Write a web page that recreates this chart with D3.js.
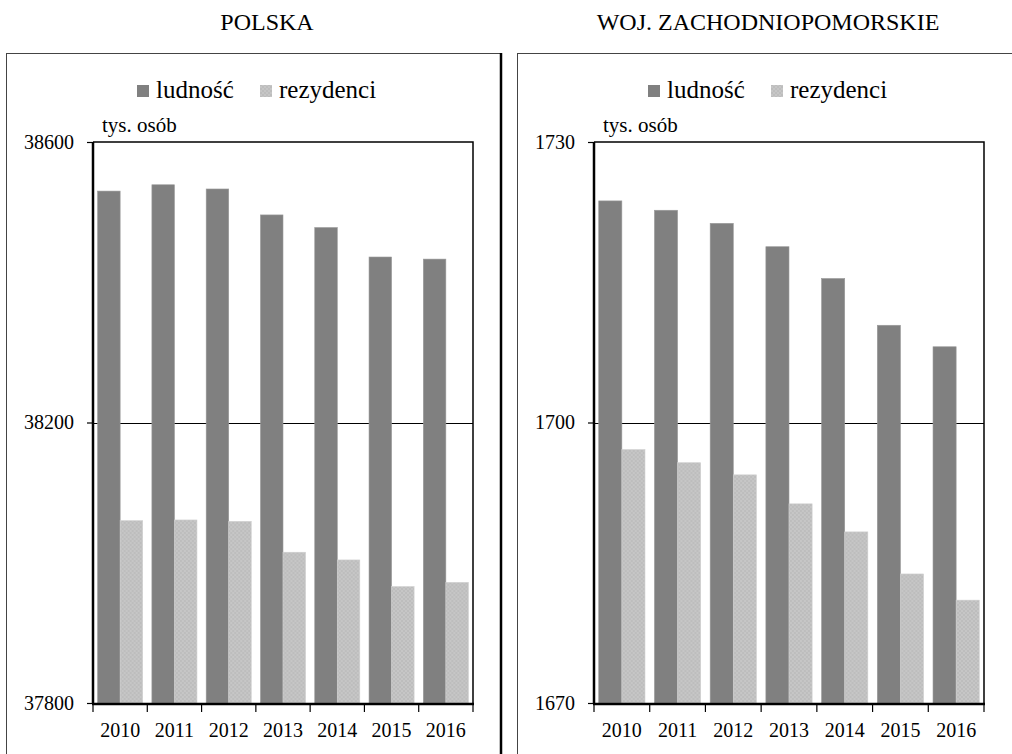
<!DOCTYPE html>
<html>
<head>
<meta charset="utf-8">
<script src="https://cdn.jsdelivr.net/npm/d3@7"></script>
<style>
  body { margin: 0; background: #fff; }
  svg text { font-family: 'Liberation Serif', 'DejaVu Serif', serif; }
</style>
</head>
<body>
<script>
const years = ['2010', '2011', '2012', '2013', '2014', '2015', '2016']
const seriesNames = ['ludność', 'rezydenci']

const polskaLudnosc = [38530, 38539, 38533, 38496, 38478, 38436, 38433]
const polskaRezydenci = [38060, 38061, 38059, 38015, 38004, 37966, 37972]
const polskaTicks = [37800, 38200, 38600]

const zpLudnosc = [1723.7, 1722.7, 1721.3, 1718.8, 1715.4, 1710.4, 1708.1]
const zpRezydenci = [1697.1, 1695.7, 1694.4, 1691.3, 1688.3, 1683.8, 1681.0]
const zpTicks = [1670, 1700, 1730]

const width = 1012
const height = 754
const serif = "'Liberation Serif', 'DejaVu Serif', serif"

const svg = d3.select('body').append('svg')
  .attr('width', width)
  .attr('height', height)
  .attr('font-family', serif)

// checker fill for the "rezydenci" bars
const defs = svg.append('defs')
const pat = defs.append('pattern')
  .attr('id', 'checker')
  .attr('patternUnits', 'userSpaceOnUse')
  .attr('width', 4)
  .attr('height', 4)
pat.append('rect').attr('width', 4).attr('height', 4).attr('fill', '#c6c6c6')
pat.append('rect').attr('width', 2).attr('height', 2).attr('fill', '#bdbdbd')
pat.append('rect').attr('x', 2).attr('y', 2).attr('width', 2).attr('height', 2).attr('fill', '#bdbdbd')

const fills = ['#808080', 'url(#checker)']

function panel({ title, titleX, boxX, boxW, left, right, ludnosc, rezydenci, ticks, legendX }) {
  const top = 142
  const bottom = 703

  const g = svg.append('g')

  g.append('text')
    .attr('x', titleX)
    .attr('y', 30)
    .attr('text-anchor', 'middle')
    .attr('font-family', serif)
    .attr('font-size', 24)
    .attr('fill', '#000')
    .text(title)

  // frame around the panel
  g.append('rect')
    .attr('x', boxX + 0.5)
    .attr('y', 53.5)
    .attr('width', boxW)
    .attr('height', 760)
    .attr('fill', 'none')
    .attr('stroke', '#444')
    .attr('stroke-width', 1)

  const x0 = d3.scaleBand()
    .domain(years)
    .range([left, right])
    .paddingInner(0.17)
    .paddingOuter(0.085)

  const x1 = d3.scaleBand()
    .domain(seriesNames)
    .range([0, x0.bandwidth()])

  const y = d3.scaleLinear()
    .domain([ticks[0], ticks[ticks.length - 1]])
    .range([bottom, top])

  // plot box (top / right)
  g.append('path')
    .attr('d', `M${left},${top}H${right}V${bottom}`)
    .attr('fill', 'none')
    .attr('stroke', '#000')
    .attr('stroke-width', 1.5)

  // middle gridline
  g.append('g')
    .selectAll('line')
    .data(ticks.slice(1, -1))
    .join('line')
    .attr('x1', left)
    .attr('x2', right)
    .attr('y1', d => Math.round(y(d)) + 0.5)
    .attr('y2', d => Math.round(y(d)) + 0.5)
    .attr('stroke', '#000')
    .attr('stroke-width', 1)

  const rows = years.map((yr, i) => ({ year: yr, values: [ludnosc[i], rezydenci[i]] }))

  g.append('g')
    .selectAll('g')
    .data(rows)
    .join('g')
    .attr('transform', d => `translate(${x0(d.year)},0)`)
    .selectAll('rect')
    .data(d => d.values.map((v, k) => ({ key: seriesNames[k], value: v, k })))
    .join('rect')
    .attr('x', d => x1(d.key))
    .attr('width', x1.bandwidth())
    .attr('y', d => y(d.value))
    .attr('height', d => bottom - y(d.value))
    .attr('fill', d => fills[d.k])
    .attr('stroke', d => (d.k === 0 ? '#999' : '#cfcfcf'))
    .attr('stroke-width', 0.6)

  // y axis
  const yAxis = d3.axisLeft(y).tickValues(ticks).tickSize(6).tickPadding(13).tickFormat(d3.format('d'))
  g.append('g')
    .attr('transform', `translate(${left},0)`)
    .call(yAxis)
    .attr('font-family', serif)
    .attr('font-size', 20)
    .call(a => a.select('.domain').attr('stroke-width', 2.5).attr('d', `M0,${top}V${bottom + 1}`))
    .call(a => a.selectAll('.tick line').attr('stroke-width', 1.2))
    .call(a => a.selectAll('text')
      .attr('font-family', serif)
      .attr('font-size', 20)
      .attr('fill', '#000'))

  // x axis: ticks at category boundaries, labels centered
  const bounds = years.map(yr => x0(yr) - x0.step() * x0.paddingOuter()).concat([right])
  const xg = g.append('g')
  xg.append('line')
    .attr('x1', left - 1)
    .attr('x2', right + 1)
    .attr('y1', bottom + 1)
    .attr('y2', bottom + 1)
    .attr('stroke', '#000')
    .attr('stroke-width', 2.5)
  xg.selectAll('.xt')
    .data(bounds)
    .join('line')
    .attr('class', 'xt')
    .attr('x1', d => d)
    .attr('x2', d => d)
    .attr('y1', bottom)
    .attr('y2', bottom + 9)
    .attr('stroke', '#000')
    .attr('stroke-width', 1.2)
  xg.selectAll('text')
    .data(years)
    .join('text')
    .attr('x', d => x0(d) + x0.bandwidth() / 2)
    .attr('y', 737)
    .attr('text-anchor', 'middle')
    .attr('font-family', serif)
    .attr('font-size', 20)
    .attr('fill', '#000')
    .text(d => d)

  // unit label
  g.append('text')
    .attr('x', left + 9)
    .attr('y', 132)
    .attr('font-family', serif)
    .attr('font-size', 21)
    .attr('fill', '#000')
    .text('tys. osób')

  // legend
  const lg = g.append('g').attr('transform', `translate(${legendX},0)`)
  const items = [
    { name: seriesNames[0], fill: fills[0], dx: 0 },
    { name: seriesNames[1], fill: fills[1], dx: 123 },
  ]
  const it = lg.selectAll('g').data(items).join('g').attr('transform', d => `translate(${d.dx},0)`)
  it.append('rect')
    .attr('x', 0)
    .attr('y', 85)
    .attr('width', 12)
    .attr('height', 12)
    .attr('fill', d => d.fill)
  it.append('text')
    .attr('x', 19)
    .attr('y', 98)
    .attr('font-family', serif)
    .attr('font-size', 25)
    .attr('fill', '#000')
    .text(d => d.name)
}

panel({
  title: 'POLSKA', titleX: 267, boxX: 6, boxW: 495,
  left: 93, right: 473,
  ludnosc: polskaLudnosc, rezydenci: polskaRezydenci, ticks: polskaTicks,
  legendX: 137,
})

panel({
  title: 'WOJ. ZACHODNIOPOMORSKIE', titleX: 768, boxX: 517, boxW: 520,
  left: 594, right: 984,
  ludnosc: zpLudnosc, rezydenci: zpRezydenci, ticks: zpTicks,
  legendX: 648,
})

// heavy right edge of the left panel
svg.append('line')
  .attr('x1', 501).attr('x2', 501)
  .attr('y1', 53).attr('y2', height)
  .attr('stroke', '#000')
  .attr('stroke-width', 2.5)
</script>
</body>
</html>
